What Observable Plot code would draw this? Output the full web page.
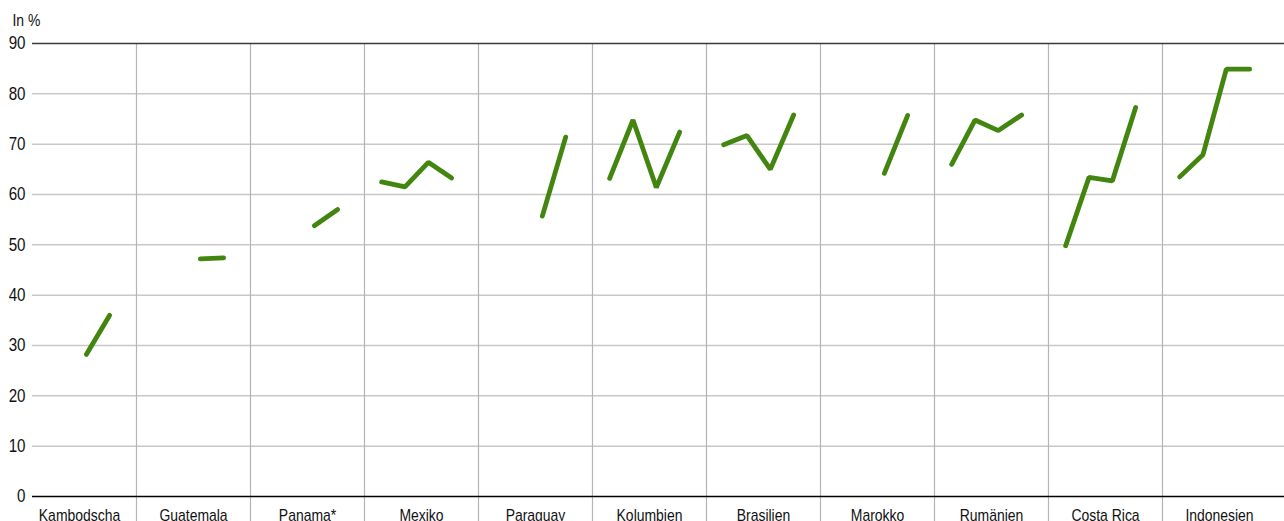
<!DOCTYPE html>
<html>
<head>
<meta charset="utf-8">
<script src="https://cdn.jsdelivr.net/npm/d3@7"></script>
<script src="https://cdn.jsdelivr.net/npm/@observablehq/plot@0.6"></script>
<style>
  html, body { margin: 0; padding: 0; background: #fff; }
  #chart svg { display: block; }
</style>
</head>
<body>
<div id="chart"></div>
<script>
// ---- data ----
const countries = ["Kambodscha", "Guatemala", "Panama*", "Mexiko", "Paraguay", "Kolumbien",
                   "Brasilien", "Marokko", "Rumänien", "Costa Rica", "Indonesien"];
const waves = ["W1", "W2", "W3", "W4"];
const kambodscha = [null, null, 28.2, 36.0];
const guatemala  = [null, null, 47.2, 47.4];
const panama     = [null, null, 53.8, 57.0];
const mexiko     = [62.5, 61.5, 66.4, 63.3];
const paraguay   = [null, null, 55.7, 71.4];
const kolumbien  = [63.2, 74.8, 61.4, 72.4];
const brasilien  = [69.9, 71.7, 65.0, 75.8];
const marokko    = [null, null, 64.2, 75.7];
const rumaenien  = [66.0, 74.8, 72.7, 75.8];
const costaRica  = [49.8, 63.4, 62.7, 77.3];
const indonesien = [63.5, 67.9, 84.9, 84.9];
const yTicks = [0, 10, 20, 30, 40, 50, 60, 70, 80, 90];
const unitLabel = "In %";

const series = [kambodscha, guatemala, panama, mexiko, paraguay, kolumbien,
                brasilien, marokko, rumaenien, costaRica, indonesien];

// ---- long table ----
const rows = [];
countries.forEach((c, i) => {
  series[i].forEach((v, j) => {
    if (v != null) rows.push({country: c, panel: i, wave: waves[j], value: v});
  });
});

// position of a wave inside its country panel (panel = 1 unit wide)
const inner = d3.scalePoint().domain(waves).range([0, 1]).padding(0.943).align(0.39);

const FONT = "'Liberation Sans', Arial, Helvetica, sans-serif";

const chart = Plot.plot({
  width: 1284,
  height: 521,
  marginLeft: 32,
  marginRight: 0,
  marginTop: 43,
  marginBottom: 25,
  style: {fontFamily: FONT, background: "#fff", color: "#111", overflow: "visible"},
  x: {type: "linear", domain: [10 / 114, 1262 / 114], axis: null},
  y: {domain: [0, 90], axis: null},
  marks: [
    // horizontal grid
    Plot.ruleY(yTicks.filter(t => t > 0 && t < 90), {stroke: "#c8c8c8", strokeWidth: 1.5}),
    // panel separators
    Plot.ruleX(d3.range(1, countries.length), {y1: 90, y2: -5, stroke: "#b4b4b4", strokeWidth: 1.2}),
    Plot.ruleY([90], {stroke: "#3a3a3a", strokeWidth: 1.5}),
    Plot.ruleY([0], {stroke: "#000", strokeWidth: 1.5}),
    // y axis labels
    Plot.axisY({ticks: yTicks, tickSize: 0, tickPadding: 7, fontSize: 18.5, label: null,
                tickFormat: d => d}),
    // country labels
    Plot.axisX({ticks: countries.map((c, i) => i + 0.5), tickSize: 0, tickPadding: 12,
                fontSize: 17, label: null, tickFormat: v => countries[Math.floor(v)]}),
    // unit label
    Plot.text([unitLabel], {frameAnchor: "top-left", dx: -20, dy: -30, text: d => d,
                            textAnchor: "start", lineAnchor: "top", fontSize: 17, fill: "#111"}),
    // lines
    Plot.line(rows, {
      x: d => d.panel + inner(d.wave),
      y: "value",
      z: "country",
      stroke: "#43860f",
      strokeWidth: 4.8,
      strokeLinecap: "round",
      strokeLinejoin: "miter"
    })
  ]
});
document.getElementById("chart").append(chart);

// the reference uses a narrow sans face: condense glyphs horizontally
chart.querySelectorAll("text").forEach(t => {
  const len = t.getComputedTextLength();
  if (len > 0) {
    t.setAttribute("textLength", (len * 0.82).toFixed(2));
    t.setAttribute("lengthAdjust", "spacingAndGlyphs");
  }
});
</script>
</body>
</html>
